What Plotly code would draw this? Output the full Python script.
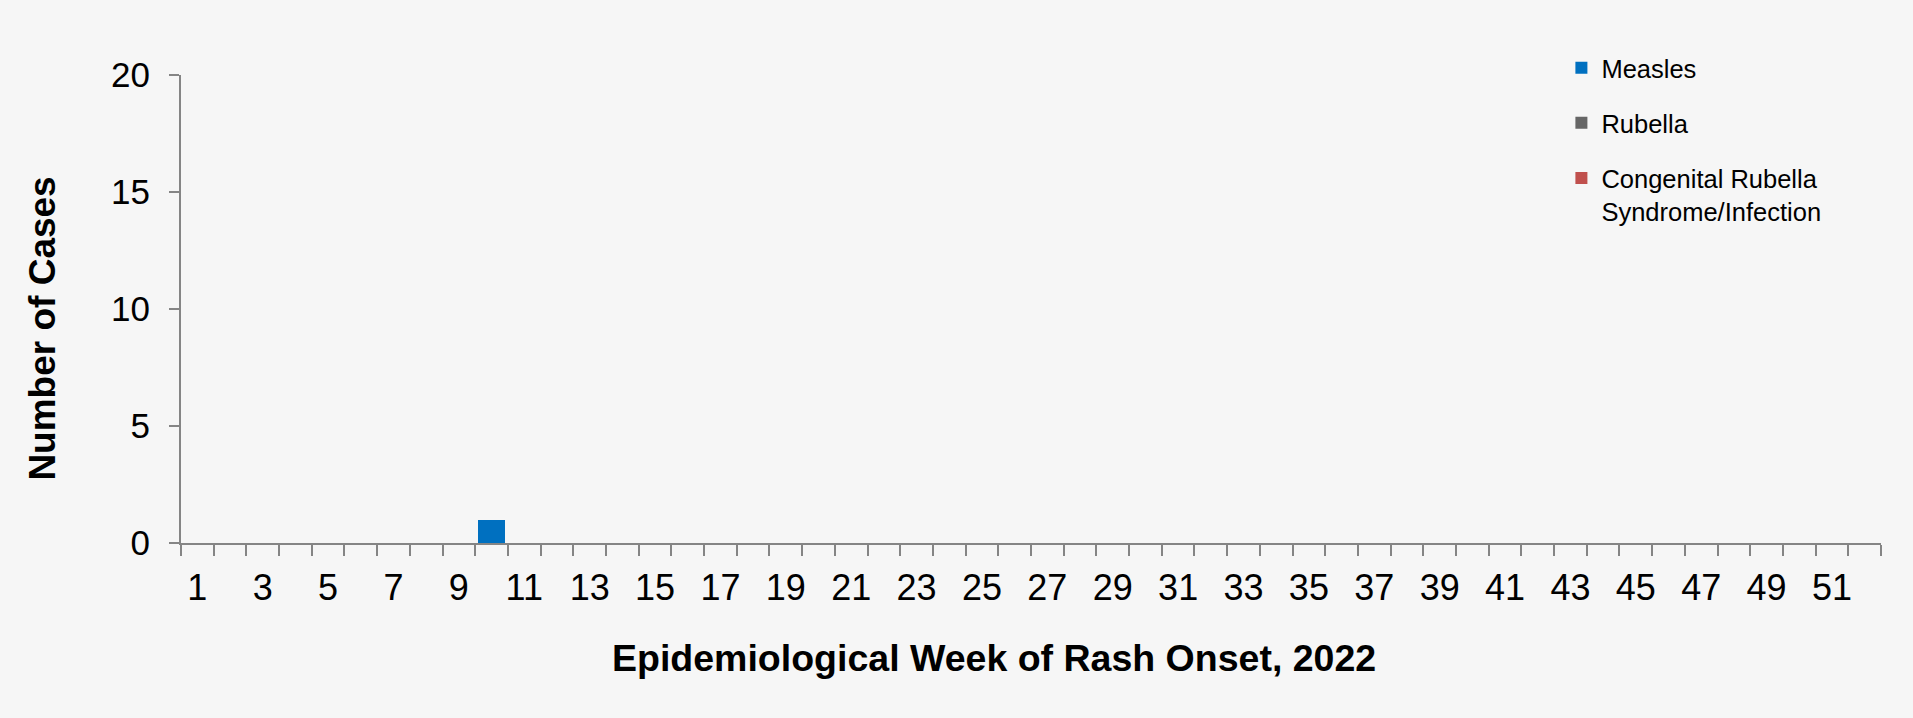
import plotly.graph_objects as go

# ---- data ----
weeks = list(range(1, 53))
measles = [0, 0, 0, 0, 0, 0, 0, 0, 0, 1, 0, 0, 0, 0, 0, 0, 0, 0, 0, 0, 0, 0, 0, 0, 0, 0,
           0, 0, 0, 0, 0, 0, 0, 0, 0, 0, 0, 0, 0, 0, 0, 0, 0, 0, 0, 0, 0, 0, 0, 0, 0, 0]
rubella = [0, 0, 0, 0, 0, 0, 0, 0, 0, 0, 0, 0, 0, 0, 0, 0, 0, 0, 0, 0, 0, 0, 0, 0, 0, 0,
           0, 0, 0, 0, 0, 0, 0, 0, 0, 0, 0, 0, 0, 0, 0, 0, 0, 0, 0, 0, 0, 0, 0, 0, 0, 0]
crs = [0, 0, 0, 0, 0, 0, 0, 0, 0, 0, 0, 0, 0, 0, 0, 0, 0, 0, 0, 0, 0, 0, 0, 0, 0, 0,
       0, 0, 0, 0, 0, 0, 0, 0, 0, 0, 0, 0, 0, 0, 0, 0, 0, 0, 0, 0, 0, 0, 0, 0, 0, 0]
series_names = ["Measles", "Rubella", "Congenital Rubella<br>Syndrome/Infection"]
series_colors = ["#0070C0", "#666666", "#C0504D"]
x_tick_labels = [str(w) for w in weeks if w % 2 == 1]
x_tick_vals = [w for w in weeks if w % 2 == 1]
boundaries = [w - 0.5 for w in weeks] + [weeks[-1] + 0.5]
y_ticks = [0, 5, 10, 15, 20]

FONT = "Liberation Sans, Arial, sans-serif"
BG = "#F6F6F6"
AXC = "#858585"

fig = go.Figure()
for name, vals, col in zip(series_names, [measles, rubella, crs], series_colors):
    fig.add_trace(go.Bar(x=weeks, y=vals, name=name, marker_color=col,
                         marker_line_width=0, legendgroup=name))

fig.update_layout(
    width=1913, height=718,
    margin=dict(l=181, r=32, t=75, b=175),
    paper_bgcolor=BG, plot_bgcolor=BG,
    barmode="stack", bargap=0.19,
    font=dict(family=FONT, color="#000000"),
    showlegend=True,
    legend=dict(x=0.812, y=1.065, xanchor="left", yanchor="top",
                font=dict(size=25.5, family=FONT, color="#000000"),
                bgcolor="rgba(0,0,0,0)", tracegroupgap=19, valign="top",
                itemwidth=30),
)
fig.update_xaxes(
    range=[0.5, 52.5], tickmode="array", tickvals=x_tick_vals, ticktext=x_tick_labels,
    ticks="", tickfont=dict(size=36, family=FONT, color="#000000"),
    ticklabelstandoff=12,
    showline=True, linecolor=AXC, linewidth=2, showgrid=False, zeroline=False,
    minor=dict(tickmode="array", tickvals=boundaries, ticks="outside", ticklen=11,
               tickwidth=2, tickcolor=AXC, showgrid=False),
)
fig.update_yaxes(
    range=[0, 20], tickmode="array", tickvals=y_ticks,
    ticks="outside", ticklen=10, tickwidth=2, tickcolor=AXC,
    tickfont=dict(size=35, family=FONT, color="#000000"),
    ticklabelstandoff=12,
    showline=True, linecolor=AXC, linewidth=2, showgrid=False, zeroline=False,
)
fig.add_annotation(text="<b>Number of Cases</b>", xref="paper", yref="paper",
                   x=-0.0812, y=0.458, textangle=-90, showarrow=False,
                   font=dict(size=37, family=FONT, color="#000000"),
                   xanchor="center", yanchor="middle")
fig.add_annotation(text="<b>Epidemiological Week of Rash Onset, 2022</b>",
                   xref="paper", yref="paper", x=0.4785, y=-0.245, showarrow=False,
                   font=dict(size=37.5, family=FONT, color="#000000"),
                   xanchor="center", yanchor="middle")

fig.write_html("out.html", config={"displayModeBar": False},
               post_script="document.body.style.margin='0';document.body.style.overflow='hidden';document.body.style.background='#F6F6F6';")
